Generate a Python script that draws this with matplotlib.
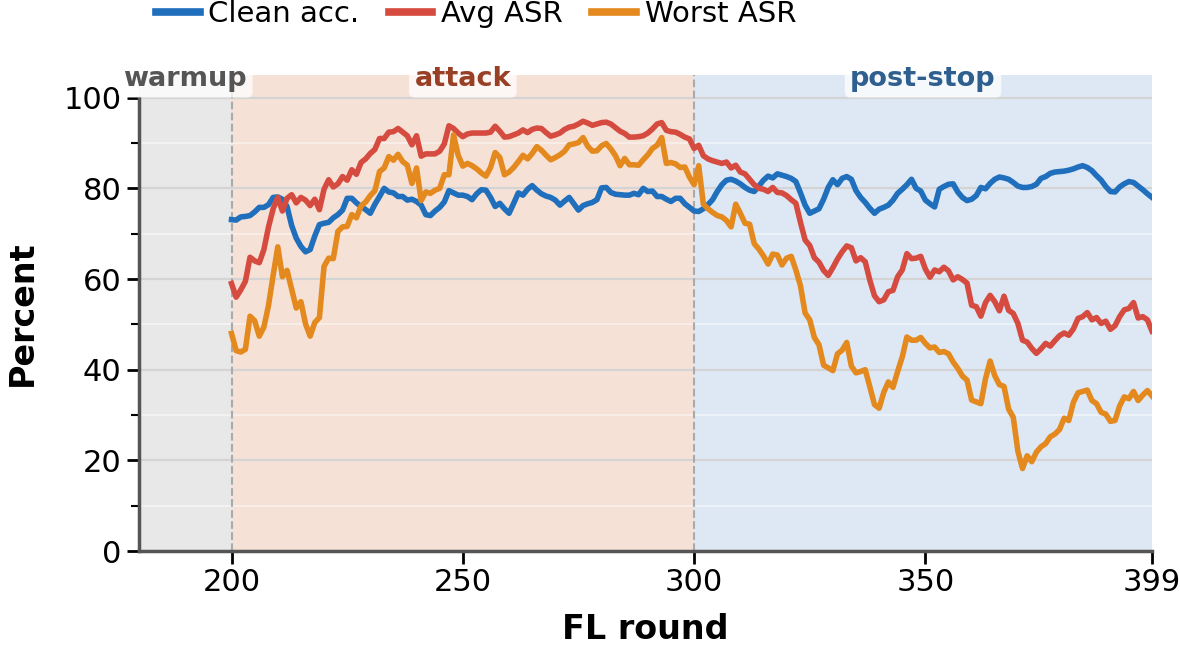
import numpy as np
import matplotlib
matplotlib.use("Agg")
import matplotlib.pyplot as plt
from matplotlib.ticker import MultipleLocator

# rounds 200..399, one value per round
rounds = np.arange(200, 400)

clean_acc = [
    73.1, 73.0, 73.7, 73.8, 74.0, 74.8, 75.8, 75.8, 76.4, 78.0,
    78.1, 77.6, 76.0, 71.8, 69.0, 67.2, 66.0, 66.5, 69.5, 72.0,
    72.3, 72.5, 73.5, 74.2, 75.2, 77.8, 77.8, 76.8, 76.0, 75.3,
    74.5, 76.5, 78.2, 80.0, 79.2, 79.0, 78.2, 78.2, 77.4, 77.6,
    77.1, 76.3, 74.2, 74.0, 75.0, 75.8, 77.0, 79.5, 79.0, 78.5,
    78.5, 78.2, 77.5, 78.8, 79.7, 79.6, 78.0, 76.0, 76.7, 75.5,
    74.5, 76.7, 79.0, 78.5, 79.8, 80.6, 79.6, 78.8, 78.3, 78.0,
    77.4, 76.3, 77.2, 78.0, 76.6, 75.2, 76.2, 76.6, 76.9, 77.5,
    80.1, 80.2, 79.1, 78.7, 78.6, 78.5, 78.5, 78.9, 78.6, 80.0,
    79.3, 79.4, 78.2, 78.2, 77.6, 77.1, 77.8, 77.8, 76.6, 75.8,
    75.0, 74.9, 75.5, 76.4, 77.5, 79.3, 80.8, 81.8, 82.0, 81.6,
    81.0, 80.2, 79.6, 79.3, 80.5, 81.8, 82.7, 82.3, 83.2, 82.9,
    82.6, 82.2, 81.5, 79.0, 76.3, 74.5, 75.0, 75.5, 77.6, 80.2,
    81.9, 80.8, 82.2, 82.6, 82.0, 79.5, 78.0, 76.9, 75.6, 74.5,
    75.4, 75.8, 76.3, 77.4, 78.9, 79.8, 80.8, 82.0, 80.0, 79.4,
    77.4, 76.6, 75.9, 79.8, 80.4, 80.9, 81.0, 79.2, 78.0, 77.3,
    77.6, 78.4, 80.2, 79.9, 81.1, 82.0, 82.5, 82.3, 82.0, 81.3,
    80.5, 80.2, 80.2, 80.4, 80.9, 82.2, 82.6, 83.3, 83.6, 83.7,
    83.8, 84.0, 84.3, 84.7, 85.0, 84.6, 83.9, 82.8, 81.8, 80.4,
    79.3, 79.2, 80.3, 81.0, 81.5, 81.3, 80.5, 79.7, 78.8, 78.0,
]

avg_asr = [
    59.0, 56.0, 57.6, 59.5, 64.8, 64.0, 63.6, 66.5, 71.5, 75.5,
    78.0, 75.0, 77.8, 78.6, 76.8, 78.0, 77.4, 76.2, 77.6, 75.3,
    79.8, 81.9, 80.3, 81.0, 82.6, 81.8, 84.1, 83.1, 85.7, 86.5,
    87.7, 88.6, 91.0, 91.0, 92.4, 92.5, 93.2, 92.4, 91.6, 89.6,
    91.6, 87.1, 87.6, 87.6, 87.6, 88.2, 89.8, 93.8, 93.2, 92.2,
    91.4, 92.0, 92.2, 92.2, 92.2, 92.2, 92.4, 93.7, 92.6, 91.3,
    91.4, 91.8, 92.2, 92.9, 92.3, 93.0, 93.3, 93.2, 92.3, 91.5,
    91.8, 92.2, 93.0, 93.5, 93.7, 94.2, 94.8, 94.4, 93.9, 94.2,
    94.5, 94.6, 94.2, 93.4, 92.6, 92.1, 91.3, 91.3, 91.4, 91.6,
    92.2, 93.1, 94.2, 94.5, 92.8, 92.5, 92.4, 91.9, 91.3, 90.9,
    88.8, 89.5, 87.2, 86.5, 86.1, 85.8, 85.5, 85.8, 84.5, 85.1,
    83.6, 83.2, 82.0, 80.8, 80.0, 79.8, 79.3, 80.2, 79.1, 79.0,
    78.4, 77.5, 76.7, 72.5, 68.6, 67.4, 64.7, 63.7, 61.9, 60.8,
    62.5, 64.4, 66.0, 67.3, 66.9, 64.0, 64.7, 63.8, 59.7, 56.3,
    55.0, 55.4, 57.2, 57.5, 60.5, 62.0, 65.6, 64.5, 64.6, 65.0,
    62.2, 60.4, 62.0, 61.6, 62.6, 61.8, 59.8, 60.5, 59.9, 59.1,
    54.2, 53.9, 51.8, 54.8, 56.4, 55.0, 53.0, 56.2, 53.1, 52.4,
    50.2, 46.5, 46.1, 44.7, 43.6, 44.6, 45.8, 45.2, 46.4, 47.5,
    48.1, 47.6, 49.0, 51.3, 51.7, 52.6, 51.0, 51.5, 50.2, 50.7,
    48.9, 49.7, 51.7, 53.2, 53.5, 54.8, 51.4, 51.7, 51.0, 48.5,
]

worst_asr = [
    48.0, 44.2, 43.9, 44.5, 51.8, 50.8, 47.4, 49.4, 54.2, 60.8,
    67.1, 60.5, 61.9, 57.8, 53.6, 55.0, 50.1, 47.4, 50.4, 51.5,
    62.8, 64.6, 64.5, 70.5, 71.5, 71.6, 74.2, 73.5, 76.1, 77.0,
    78.4, 79.5, 83.7, 84.5, 87.0, 86.2, 87.5, 85.9, 85.1, 81.1,
    84.5, 77.3, 79.2, 78.9, 79.6, 80.0, 83.0, 83.0, 91.8, 87.3,
    84.9, 85.5, 85.0, 84.3, 83.4, 82.7, 84.6, 87.9, 86.8, 83.0,
    83.6, 84.6, 85.9, 87.3, 86.5, 87.7, 89.2, 88.4, 87.3, 86.3,
    86.8, 87.4, 88.2, 89.6, 89.8, 90.1, 91.2, 89.3, 88.2, 88.3,
    89.4, 89.9, 88.7, 87.2, 85.0, 86.6, 85.2, 85.2, 85.1, 86.3,
    87.4, 88.8, 89.5, 91.2, 85.5, 85.7, 85.4, 84.6, 84.7, 82.5,
    80.8, 85.0, 76.5, 75.5, 74.7, 74.0, 73.7, 72.9, 71.5, 76.5,
    74.5, 72.3, 72.1, 67.8, 66.6, 65.1, 63.3, 65.5, 65.3, 63.1,
    64.6, 65.0, 62.0, 58.5, 52.5, 51.0, 47.1, 45.5, 41.0, 40.4,
    39.8, 43.5, 44.3, 46.0, 40.8, 39.3, 39.6, 40.0, 36.2, 32.3,
    31.5, 35.0, 37.3, 36.1, 39.6, 42.8, 47.2, 46.5, 46.5, 47.1,
    45.8, 44.8, 45.0, 43.8, 44.0, 43.5, 41.7, 40.3, 38.6, 37.7,
    33.3, 32.9, 32.5, 38.0, 41.9, 38.7, 36.7, 36.3, 31.3, 29.5,
    22.0, 18.2, 21.0, 19.7, 21.8, 23.0, 23.7, 25.2, 25.8, 26.8,
    29.3, 28.8, 32.8, 34.9, 35.2, 35.5, 33.2, 32.5, 30.6, 30.2,
    28.6, 28.8, 32.0, 34.0, 33.6, 35.2, 33.2, 34.4, 35.4, 34.2,
]

series_names = ["Clean acc.", "Avg ASR", "Worst ASR"]
series_colors = ["#1f6fbd", "#d64b40", "#e3891e"]

phase_names = ["warmup", "attack", "post-stop"]
phase_bounds = [(180, 200), (200, 300), (300, 399)]
phase_fill = ["#e8e8e8", "#f6e1d6", "#dde8f4"]
phase_text = ["#555555", "#983f25", "#2f5f8f"]

xticks = [200, 250, 300, 350, 399]

fig = plt.figure(figsize=(11.8, 6.45), dpi=100)
ax = fig.add_axes([0.1178, 0.1457, 0.8585, 0.738])

for (x0, x1), fc in zip(phase_bounds, phase_fill):
    ax.axvspan(x0, x1, color=fc, zorder=0, lw=0)
for xv in [200, 300]:
    ax.axvline(xv, color="#aaaaaa", ls="--", lw=1.5, zorder=1)

for vals, name, col in zip([clean_acc, avg_asr, worst_asr], series_names, series_colors):
    ax.plot(rounds, vals, color=col, lw=4.0, label=name, zorder=3,
            solid_joinstyle="round")

for (x0, x1), name, tc in zip(phase_bounds, phase_names, phase_text):
    ax.text((x0 + x1) / 2, 104.1, name, ha="center", va="center",
            fontsize=19.5, fontweight="bold", color=tc, zorder=5, clip_on=False,
            bbox=dict(boxstyle="round,pad=0.2", fc="white", ec="none", alpha=0.75))

ax.set_xlim(180, 399)
ax.set_ylim(0, 105)
ax.set_xticks(xticks)
ax.set_yticks(np.arange(0, 101, 20))
ax.yaxis.set_minor_locator(MultipleLocator(10))
ax.set_axisbelow(True)
ax.grid(axis="y", which="major", color="#d4d4d4", lw=1.6)
ax.grid(axis="y", which="minor", color="white", lw=1.4, alpha=0.45)

for s in ["top", "right"]:
    ax.spines[s].set_visible(False)
for s in ["left", "bottom"]:
    ax.spines[s].set_color("#555555")
    ax.spines[s].set_linewidth(2.5)
ax.spines["left"].set_bounds(0, 100)

ax.tick_params(axis="both", which="major", labelsize=22, length=9, width=2)
ax.tick_params(axis="y", which="minor", length=6, width=1.5)
ax.set_xlabel("FL round", fontsize=24, fontweight="bold", labelpad=11)
ax.set_ylabel("Percent", fontsize=24, fontweight="bold", labelpad=18)

leg = fig.legend(loc="center", bbox_to_anchor=(476 / 1180, 1 - 14 / 645), ncol=3,
                 frameon=False, fontsize=21, handlelength=1.5, handletextpad=0.3,
                 columnspacing=1.0)
for h in leg.legend_handles:
    h.set_linewidth(5.5)

fig.savefig("out.png", dpi=100)
